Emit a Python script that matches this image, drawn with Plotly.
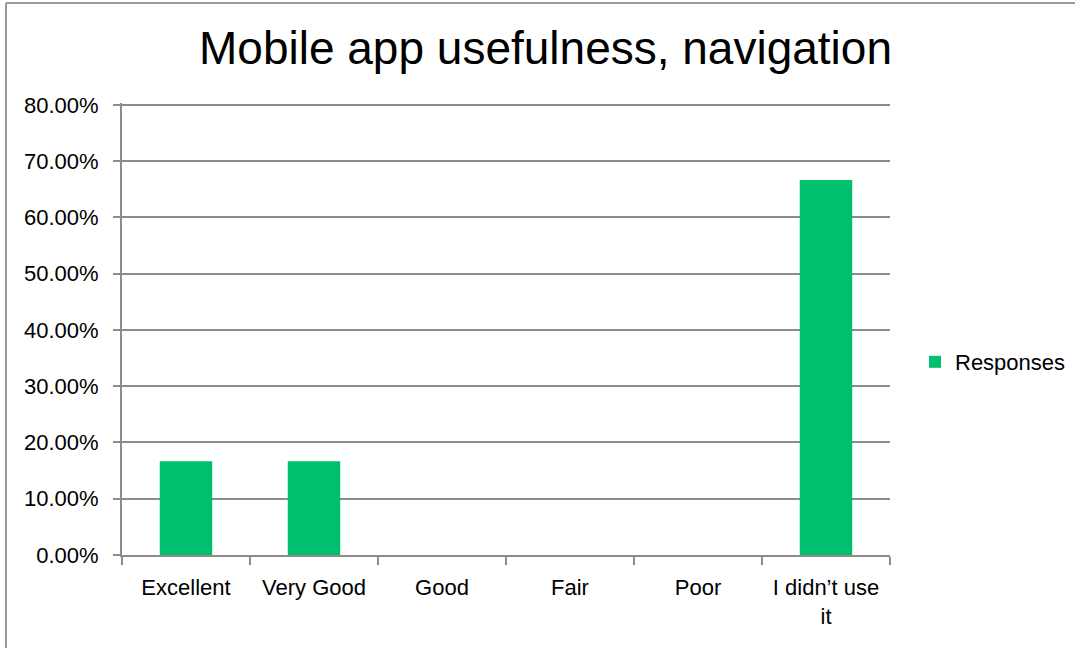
import plotly.graph_objects as go

categories = ["Excellent", "Very Good", "Good", "Fair", "Poor", "I didn’t use<br>it"]
responses = [0.1667, 0.1667, 0.0, 0.0, 0.0, 0.6667]
y_ticks = [0, 0.1, 0.2, 0.3, 0.4, 0.5, 0.6, 0.7, 0.8]
y_tick_labels = ["0.00%", "10.00%", "20.00%", "30.00%", "40.00%", "50.00%", "60.00%", "70.00%", "80.00%"]

W, H = 1075, 648
L, R, T, B = 122, 185, 103, 93
pw, ph = W - L - R, H - T - B

def px(x):
    return (x - L) / pw

def py(y):
    return (H - B - y) / ph

font = "Liberation Sans, Arial, sans-serif"
grid = "#8c8c8c"

fig = go.Figure()
fig.add_trace(go.Bar(
    x=categories, y=responses, name="Responses",
    marker=dict(color="#00BF6F", line=dict(width=0)),
    showlegend=True,
))

fig.update_layout(
    width=W, height=H,
    margin=dict(l=L, r=R, t=T, b=B, autoexpand=False),
    paper_bgcolor="white", plot_bgcolor="white",
    bargap=0.59,
    font=dict(family=font, size=22, color="black"),
    title=dict(text="Mobile app usefulness, navigation", x=px(545.5), xref="paper",
               xanchor="center", y=1 - 48 / H, yanchor="middle",
               font=dict(family=font, size=46, color="black")),
    showlegend=True,
    legend=dict(x=px(915), y=py(362), xanchor="left", yanchor="middle",
                font=dict(family=font, size=22, color="black"),
                itemwidth=30, bgcolor="rgba(0,0,0,0)"),
    xaxis=dict(
        type="category", showgrid=False, showline=True, linecolor=grid, linewidth=2,
        ticks="outside", tickson="boundaries", ticklen=8, tickcolor=grid, tickwidth=2,
        ticklabelstandoff=12,
        tickfont=dict(family=font, size=22, color="black"), zeroline=False,
    ),
    yaxis=dict(
        range=[0, 0.8035], tickvals=y_ticks, ticktext=y_tick_labels,
        showgrid=True, gridcolor=grid, gridwidth=2,
        showline=True, linecolor=grid, linewidth=2,
        ticks="outside", ticklen=7, tickcolor=grid, tickwidth=2,
        ticklabelstandoff=10,
        tickfont=dict(family=font, size=22, color="black"), zeroline=False,
    ),
    shapes=[
        dict(type="line", xref="paper", yref="paper", x0=px(6), x1=px(6), y0=py(H + 5), y1=py(3),
             line=dict(color="#9a9a9a", width=2)),
        dict(type="line", xref="paper", yref="paper", x0=px(6), x1=px(W + 5), y0=py(3), y1=py(3),
             line=dict(color="#9a9a9a", width=2)),
    ],
)

fig.write_html("out.html", config={"displayModeBar": False},
               post_script="document.body.style.margin='0';document.body.style.overflow='hidden';")
